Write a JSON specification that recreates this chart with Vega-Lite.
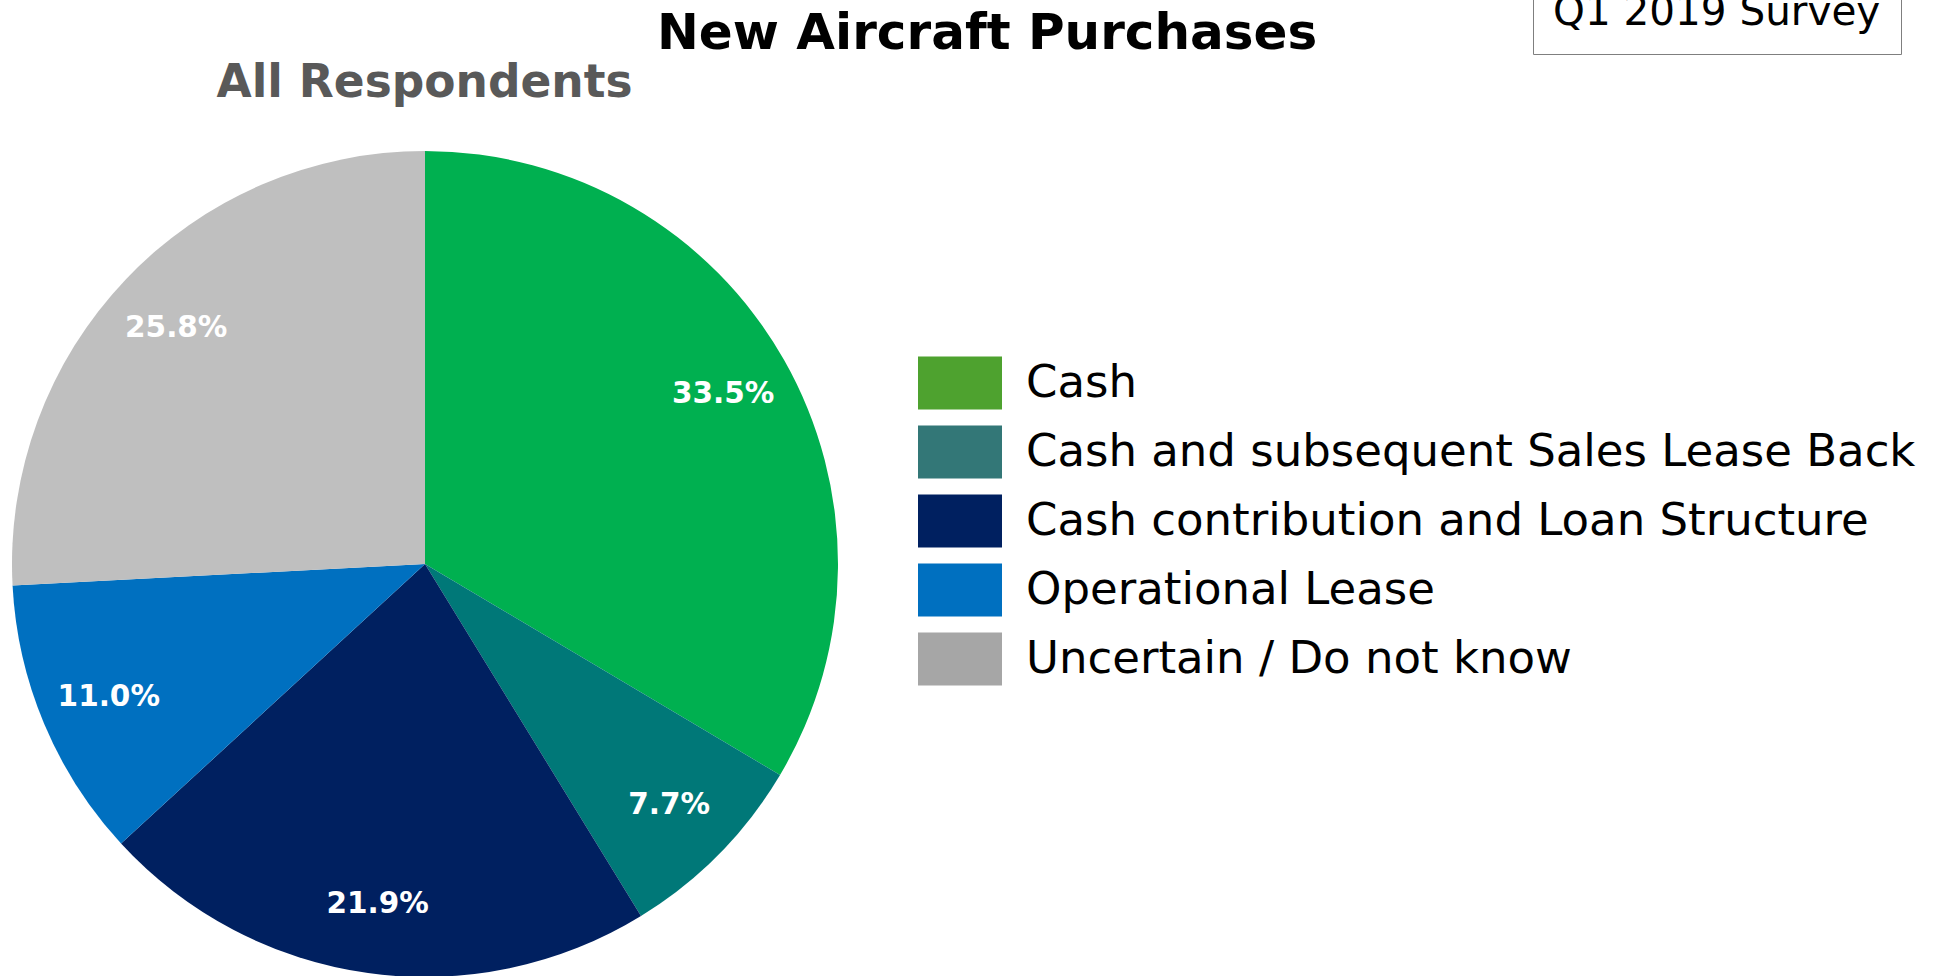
{
  "$schema": "https://vega.github.io/schema/vega-lite/v6.json",
  "autosize": {"type": "none"},
  "width": 850,
  "height": 826,
  "padding": {"left": 0, "top": 151, "right": 1089, "bottom": 0},
  "background": "white",
  "config": {"view": {"stroke": null}},
  "data": {
    "values": [
      {"method": "Cash", "share": 33.5, "label": "33.5%"},
      {"method": "Cash and subsequent Sales Lease Back", "share": 7.7, "label": "7.7%"},
      {"method": "Cash contribution and Loan Structure", "share": 21.9, "label": "21.9%"},
      {"method": "Operational Lease", "share": 11.0, "label": "11.0%"},
      {"method": "Uncertain / Do not know", "share": 25.8, "label": "25.8%"}
    ]
  },
  "layer": [
    {
      "mark": {"type": "arc"},
      "encoding": {
        "theta": {"field": "share", "type": "quantitative", "stack": true},
        "order": {"field": "method", "sort": "ascending"},
        "color": {
          "field": "method",
          "type": "nominal",
          "scale": {
            "range": ["#00B050", "#007878", "#002060", "#0070C0", "#BFBFBF"]
          },
          "legend": null
        }
      }
    },
    {
      "mark": {"type": "text", "radius": 343, "fill": "#FFFFFF", "font": "DejaVu Sans", "fontSize": 29.5, "fontWeight": "bold"},
      "encoding": {
        "theta": {"field": "share", "type": "quantitative", "stack": true},
        "order": {"field": "method", "sort": "ascending"},
        "detail": {"field": "method", "type": "nominal"},
        "text": {"field": "label", "type": "nominal"}
      }
    },
    {
      "mark": {"type": "point", "filled": true, "size": 0, "strokeWidth": 0},
      "encoding": {
        "fill": {
          "field": "method",
          "type": "nominal",
          "scale": {
            "domain": ["Cash", "Cash and subsequent Sales Lease Back", "Cash contribution and Loan Structure", "Operational Lease", "Uncertain / Do not know"],
            "range": ["#4EA22F", "#337777", "#002060", "#0070C0", "#A6A6A6"]
          },
          "legend": {
            "orient": "none",
            "legendX": 918,
            "legendY": 190,
            "title": null,
            "padding": 0,
            "symbolType": "M-1,-0.631H1V0.631H-1Z",
            "symbolSize": 7056,
            "symbolStrokeWidth": 0,
            "symbolOpacity": 1,
            "labelFont": "DejaVu Sans",
            "labelFontSize": 45,
            "labelColor": "#000000",
            "labelOffset": 24,
            "labelLimit": 2000,
            "rowPadding": -16
          }
        }
      }
    },
    {
      "mark": {"type": "point", "opacity": 0},
      "encoding": {
        "stroke": {
          "datum": "New Aircraft Purchases",
          "legend": {
            "orient": "none",
            "legendX": 657,
            "legendY": -142,
            "title": null,
            "padding": 0,
            "symbolOpacity": 0,
            "symbolSize": 0,
            "symbolStrokeWidth": 0,
            "labelOffset": -50,
            "labelFont": "DejaVu Sans",
            "labelFontSize": 50,
            "labelFontWeight": "bold",
            "labelColor": "#000000",
            "labelLimit": 2000
          }
        }
      }
    },
    {
      "mark": {"type": "point", "opacity": 0},
      "encoding": {
        "shape": {
          "datum": "All Respondents",
          "legend": {
            "orient": "none",
            "legendX": 171,
            "legendY": -91,
            "title": null,
            "padding": 0,
            "symbolOpacity": 0,
            "symbolSize": 0,
            "symbolStrokeWidth": 0,
            "labelOffset": 0,
            "labelFont": "DejaVu Sans",
            "labelFontSize": 45.5,
            "labelFontWeight": "bold",
            "labelColor": "#595959",
            "labelLimit": 2000
          }
        }
      }
    },
    {
      "mark": {"type": "point", "opacity": 0},
      "encoding": {
        "strokeDash": {
          "datum": "Q1 2019 Survey",
          "legend": {
            "orient": "none",
            "legendX": 1533,
            "legendY": -178,
            "title": null,
            "padding": 20,
            "strokeColor": "#7F7F7F",
            "fillColor": "#FFFFFF",
            "symbolOpacity": 0,
            "symbolSize": 0,
            "symbolStrokeWidth": 0,
            "labelOffset": -40.5,
            "labelFont": "DejaVu Sans",
            "labelFontSize": 40.5,
            "labelColor": "#000000",
            "labelLimit": 2000
          }
        }
      }
    }
  ]
}
